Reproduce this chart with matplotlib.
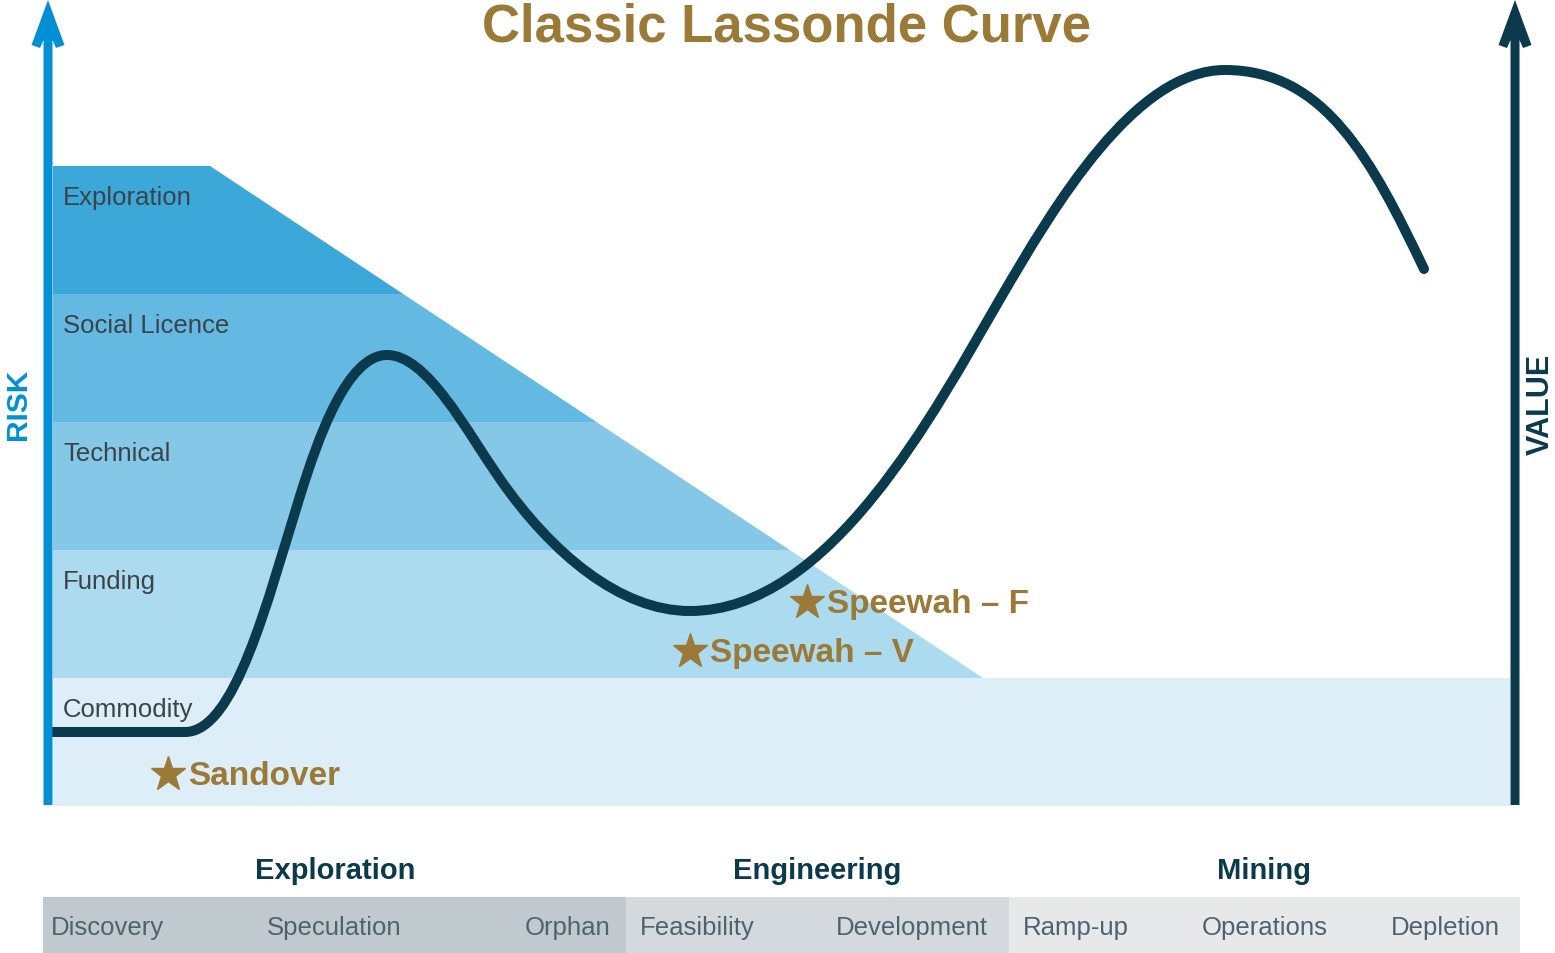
import numpy as np
import matplotlib.pyplot as plt
from matplotlib.path import Path
from matplotlib.patches import PathPatch, Polygon, Rectangle

# ---- data (pixel space of the original 1555x954 graphic, y downward) ----
band_names = ['Exploration', 'Social Licence', 'Technical', 'Funding', 'Commodity']
band_edges = [167, 295, 423, 551, 679, 807]
band_colors = ['#3ca8da', '#64b9e3', '#84c7e7', '#acdaef', '#deeef8']
slope_start = (210, 167)      # where the risk wedge starts falling
slope_end = (983, 679)        # where it meets the commodity band

# curve nodes: position, tangent direction, handle lengths
node_x = [53, 185, 300, 387, 500, 690, 1000, 1225, 1424]
node_y = [733, 733, 497, 356, 480, 612, 300, 71, 270]
node_dx = [1, 1, 0.298, 1, 0.57, 1, 0.503, 1, 0.43]
node_dy = [0, 0, -0.955, 0, 0.82, 0, -0.864, 0, 0.90]
handle_out = [44, 50, 60, 40, 90, 140, 110, 100]   # leaving node i
handle_in = [44, 110, 40, 60, 70, 130, 90, 120]    # arriving at node i+1

projects = ['Sandover', 'Speewah – F', 'Speewah – V']
project_x = [168, 807, 690]
project_y = [775, 603, 652]

group_names = ['Exploration', 'Engineering', 'Mining']
group_x = [335, 817, 1264]
stage_edges = [43, 626, 1009, 1520]
stage_colors = ['#c0c9ce', '#d3d9dc', '#e7e8e9']
stage_names = ['Discovery', 'Speculation', 'Orphan', 'Feasibility', 'Development',
               'Ramp-up', 'Operations', 'Depletion']
stage_x = [51, 334, 611, 640, 988, 1023, 1265, 1500]
stage_ha = ['left', 'center', 'right', 'left', 'right', 'left', 'center', 'right']

GOLD = '#9a7a36'
DARK = '#0b3a4c'
BLUE = '#0290d3'

plt.rcParams['font.family'] = ['Liberation Sans', 'DejaVu Sans']

fig = plt.figure(figsize=(15.55, 9.54), dpi=100)
ax = fig.add_axes([0, 0, 1, 1])
ax.set_xlim(0, 1555)
ax.set_ylim(954, 0)
ax.axis('off')

# risk bands: each band is cut by the diagonal, the last one runs full width
def diag_x(y):
    return slope_start[0] + (y - slope_start[1]) * (slope_end[0] - slope_start[0]) / (slope_end[1] - slope_start[1])

left = 53
for i, name in enumerate(band_names):
    t, b = band_edges[i], band_edges[i + 1]
    if i < len(band_names) - 1:
        pts = [(left, t), (diag_x(t), t), (diag_x(b), b), (left, b)]
    else:
        pts = [(left, t), (1510, t), (1510, b), (left, b)]
    ax.add_patch(Polygon(pts, closed=True, fc=band_colors[i], ec='none', zorder=1))
    ax.text(left + 10, t + 31, name, fontsize=18.5, color='#3b4248', va='center', ha='left', zorder=3)

# the Lassonde curve as a chain of cubic Bezier segments
P = np.column_stack([node_x, node_y]).astype(float)
T = np.column_stack([node_dx, node_dy]).astype(float)
verts = [P[0]]
codes = [Path.MOVETO]
for k in range(len(P) - 1):
    verts += [P[k] + T[k] * handle_out[k], P[k + 1] - T[k + 1] * handle_in[k], P[k + 1]]
    codes += [Path.CURVE4] * 3
ax.add_patch(PathPatch(Path(verts, codes), fc='none', ec=DARK, lw=7.2,
                       capstyle='round', joinstyle='round', zorder=4))

# project markers
for name, px, py in zip(projects, project_x, project_y):
    ax.plot(px, py, marker='*', ms=26, color=GOLD, mec=GOLD, zorder=5)
    ax.text(px + 20, py + 2, name, fontsize=24, fontweight='bold', color=GOLD,
            va='center', ha='left', zorder=5)

# axis arrows
def axis_arrow(x, color, top=1, bottom=806, w=9):
    h = w / 2
    ax.add_patch(Polygon([(x, top), (x + 16.5, top + 45), (x + 8, top + 48), (x + h, top + 40),
                          (x + h, bottom), (x - h, bottom), (x - h, top + 40),
                          (x - 8, top + 48), (x - 16.5, top + 45)],
                         closed=True, fc=color, ec='none', zorder=6))

axis_arrow(48, BLUE)
axis_arrow(1515, DARK)
ax.text(18, 404, 'RISK', rotation=90, fontsize=21.5, fontweight='bold', color=BLUE,
        ha='center', va='center')
ax.text(1541, 404, 'VALUE', rotation=90, fontsize=22, fontweight='bold', color=DARK,
        ha='center', va='center')

ax.text(787, 28, 'Classic Lassonde Curve', fontsize=38, fontweight='bold', color=GOLD,
        ha='center', va='center')

# bottom stage bar
for i in range(len(stage_colors)):
    ax.add_patch(Rectangle((stage_edges[i], 898), stage_edges[i + 1] - stage_edges[i], 56,
                           fc=stage_colors[i], ec='none'))
for name, gx in zip(group_names, group_x):
    ax.text(gx, 871, name, fontsize=21, fontweight='bold', color=DARK, ha='center', va='center')
for name, sx, ha in zip(stage_names, stage_x, stage_ha):
    ax.text(sx, 928, name, fontsize=18.5, color='#4d6470', ha=ha, va='center')

fig.savefig('out.png', dpi=100)
